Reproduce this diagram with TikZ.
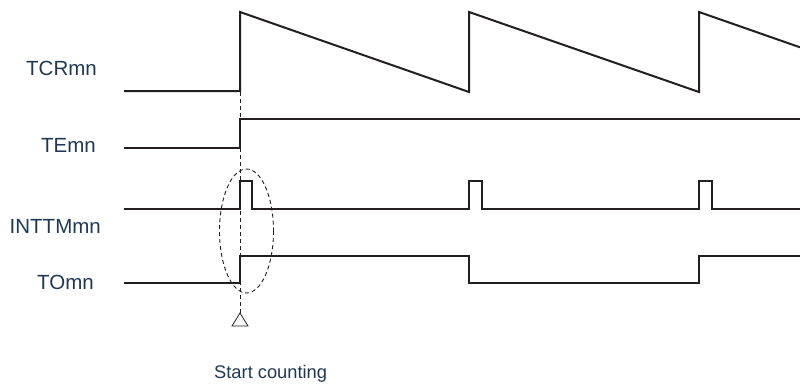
\documentclass[tikz,border=0pt]{standalone}
\usepackage{fontspec}
\setmainfont{Liberation Sans}
\begin{document}
\begin{tikzpicture}[x=1pt,y=-1pt,
  sig/.style={line width=2pt,draw={rgb,255:red,35;green,31;blue,32},line join=miter},
  lbl/.style={text={rgb,255:red,31;green,56;blue,86},font=\fontsize{20.5}{24}\selectfont,inner sep=0pt,anchor=base east},
  aux/.style={line width=0.9pt,draw={rgb,255:red,35;green,31;blue,32},dash pattern=on 4pt off 3pt}]
\useasboundingbox (0,0) rectangle (800,383);
% labels
\node[lbl] (tcr) at (97,75) {TCRmn};
\node[lbl] (te) at (96,152) {TEmn};
\node[lbl] (intt) at (101,233) {INTTMmn};
\node[lbl] (to) at (94,289) {TOmn};
% dashed start line
\draw[aux] (240,92) -- (240,313);
% ellipse
\draw[aux] (246.5,231) ellipse [x radius=27, y radius=62];
% triangle
\draw[line width=0.8pt,draw={rgb,255:red,35;green,31;blue,32}] (240,313) -- (248,326) -- (232,326) -- cycle;
% TCR
\draw[sig] (124,91) -- (240,91) -- (240,12) -- (469,92) -- (469,12) -- (699,92) -- (699,12) -- (800,47.3);
% TE
\draw[sig] (124,148) -- (240,148) -- (240,119) -- (800,119);
% INTTM
\draw[sig] (124,209) -- (240,209) -- (240,181) -- (252,181) -- (252,209) -- (469,209) -- (469,181) -- (482,181) -- (482,209) -- (699,209) -- (699,181) -- (712,181) -- (712,209) -- (800,209);
% TO
\draw[sig] (124,283) -- (240,283) -- (240,256) -- (469,256) -- (469,283) -- (699,283) -- (699,256) -- (800,256);
\node[text={rgb,255:red,31;green,56;blue,86},font=\fontsize{18.3}{22}\selectfont,inner sep=0pt,anchor=base west] (start) at (214,378.5) {Start counting};
\end{tikzpicture}
\end{document}
